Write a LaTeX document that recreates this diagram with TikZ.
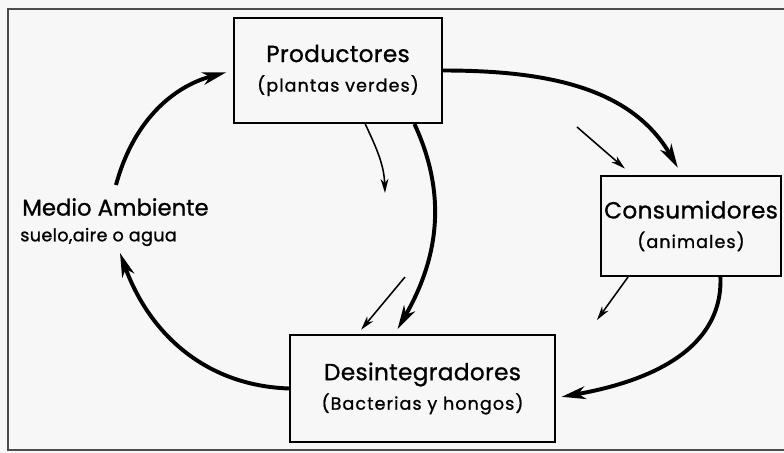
\documentclass[tikz,border=0pt]{standalone}
\usepackage{fontspec}
\setmainfont{Poppins}[FakeBold=1]
\usetikzlibrary{arrows.meta}

\newcommand{\boxsub}[1]{{\fontsize{12.5}{21}\selectfont\addfontfeature{LetterSpace=6}#1}}

\begin{document}
\begin{tikzpicture}[x=0.025cm, y=0.025cm,
        box/.style={draw, line width=1.4pt, align=center, inner sep=0pt,
            font=\fontsize{16.5}{21}\selectfont\addfontfeature{LetterSpace=1.5}},
        flow/.style={-{Stealth[length=17pt, width=9pt, inset=5pt]}, line width=2.8pt},
        loss/.style={-{Stealth[length=10pt, width=5.5pt, inset=3pt]}, line width=1.1pt}]
        \useasboundingbox[fill=black!3] (0,0) rectangle (784,453);
        \draw[black!70, line width=1pt] (784,444) -- (8,444) -- (8,3) -- (784,3);

        \node[box, minimum width=5.2cm, minimum height=2.625cm] (prod) at (338,382.5)
            {Productores\\\boxsub{(plantas verdes)}};
        \node[box, minimum width=4.5cm, minimum height=2.5cm] (cons) at (691,227)
            {Consumidores\\\boxsub{(animales)}};
        \node[box, minimum width=6.625cm, minimum height=2.675cm] (desint) at (422.5,64.5)
            {Desintegradores\\\boxsub{(Bacterias y hongos)}};

        \node[anchor=west, inner sep=0pt, font=\fontsize{16.2}{18}\selectfont] (medio) at (22,246) {Medio Ambiente};
        \node[anchor=west, inner sep=0pt, font=\fontsize{12.5}{14}\selectfont\addfontfeature{LetterSpace=2}] (suelo) at (20,216) {suelo,aire o agua};

        \coordinate (m-top) at (116,268);
        \coordinate (m-bot) at (120,200);

        % ciclo
        \draw[flow, shorten >=5pt] (m-top) to[out=75, in=195] (prod.west);
        \draw[flow, shorten >=6pt] (prod.east) to[out=0, in=120] (cons.100);
        \draw[flow, shorten >=4pt] (cons.-60) to[out=-88, in=10] (desint.-4);
        \draw[flow] (desint.west) to[out=178, in=-70] (m-bot);
        \draw[flow, shorten >=4pt] (prod.-35) to[out=-65, in=60] (desint.117);

        % flechas finas
        \coordinate (l1) at (385,260);
        \coordinate (l2) at (405,176);
        \coordinate (l3) at (577,326);
        \coordinate (l4) at (597,133);
        \draw[loss] (prod.-63) to[out=-65, in=92] (l1);
        \draw[loss, shorten >=4pt] (l2) -- (desint.140);
        \draw[loss, shorten >=7pt] (l3) -- (cons.139);
        \draw[loss] (cons.-141) -- (l4);
\end{tikzpicture}
\end{document}
